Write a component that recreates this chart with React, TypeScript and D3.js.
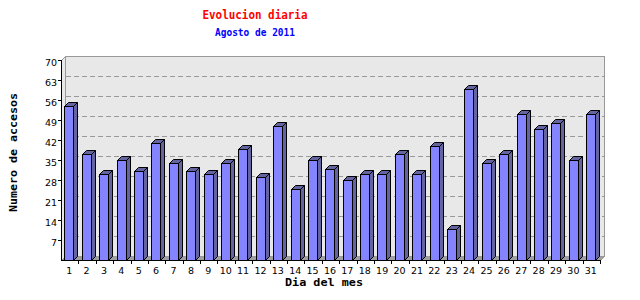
import React from "react";
import * as d3 from "d3";

const days: string[] = Array.from({ length: 31 }, (_, i) => String(i + 1));
const visits: number[] = [54, 37, 30, 35, 31, 41, 34, 31, 30, 34, 39, 29, 47, 25, 35, 32, 28, 30, 30, 37, 30, 40, 11, 60, 34, 37, 51, 46, 48, 35, 51];
const yTicks: number[] = [7, 14, 21, 28, 35, 42, 49, 56, 63, 70];

const title = "Evolucion diaria";
const subtitle = "Agosto de 2011";
const xTitle = "Dia del mes";
const yTitle = "Numero de accesos";

export default function App() {
  const W = 640, H = 300;
  const x0 = 61, x1 = 600, yTop = 60, yBot = 260;
  const D = 4; // 3D depth
  const x = d3.scaleBand<string>().domain(days).range([x0, x1]).padding(0);
  const y = d3.scaleLinear().domain([0, 70]).range([yBot, yTop]);
  const bw = x.bandwidth();
  const faceW = 9;

  const mono = "'DejaVu Sans Mono', monospace";
  const sans = "'DejaVu Sans', sans-serif";

  return (
    <svg width={W} height={H} style={{ position: "absolute", left: 0, top: 0, display: "block", background: "#fff" }}>
      {/* back wall */}
      <rect x={x0 + D + 0.5} y={yTop - D + 0.5} width={x1 - x0} height={yBot - yTop} fill="#e8e8e8" stroke="#999" strokeWidth={1} />
      {/* left wall */}
      <polygon points={`${x0 + 0.5},${yTop + 0.5} ${x0 + D + 0.5},${yTop - D + 0.5} ${x0 + D + 0.5},${yBot - D + 0.5} ${x0 + 0.5},${yBot + 0.5}`} fill="#e8e8e8" stroke="#999" strokeWidth={1} />
      {/* floor */}
      <polygon points={`${x0 + 0.5},${yBot + 0.5} ${x0 + D + 0.5},${yBot - D + 0.5} ${x1 + D + 0.5},${yBot - D + 0.5} ${x1 + 0.5},${yBot + 0.5}`} fill="#a0a0a0" stroke="#999" strokeWidth={1} />
      {/* gridlines on back wall */}
      {yTicks.filter((t) => t < 70).map((t) => (
        <line key={"g" + t} x1={x0 + D + 1} x2={x1 + D} y1={Math.round(y(t) - D) + 0.5} y2={Math.round(y(t) - D) + 0.5} stroke="#999" strokeDasharray="5,3" />
      ))}
      {/* bars */}
      {visits.map((v, i) => {
        const c = (x(days[i]) as number) + bw / 2;
        const fx0 = Math.round(c - 5.2) + 0.5;
        const fx1 = fx0 + faceW;
        const top = Math.round(y(v)) + 0.5;
        const bot = yBot + 0.5;
        return (
          <g key={"b" + i} stroke="#000" strokeWidth={1} strokeLinejoin="miter">
            <polygon points={`${fx1},${top} ${fx1 + D},${top - D} ${fx1 + D},${bot - D} ${fx1},${bot}`} fill="#6464a0" />
            <polygon points={`${fx0},${top} ${fx0 + D},${top - D} ${fx1 + D},${top - D} ${fx1},${top}`} fill="#6464a0" />
            <rect x={fx0} y={top} width={faceW} height={bot - top} fill="#8484ff" />
          </g>
        );
      })}
      {/* axes */}
      <line x1={x0 + 0.5} x2={x0 + 0.5} y1={yTop} y2={yBot + 1} stroke="#000" />
      <line x1={x0} x2={x1 + 1} y1={yBot + 0.5} y2={yBot + 0.5} stroke="#000" />
      {/* y ticks & labels */}
      {yTicks.map((t) => (
        <g key={"yt" + t}>
          <line x1={x0 - 3} x2={x0} y1={Math.round(y(t)) + 0.5} y2={Math.round(y(t)) + 0.5} stroke="#000" />
          <text x={57} y={y(t) + 6} textAnchor="end" fontFamily={sans} fontSize={9.5} fill="#000">{t}</text>
        </g>
      ))}
      {/* x ticks & labels */}
      {days.map((d) => {
        const xb = Math.round((x(d) as number) + bw) + 0.5;
        return (
          <g key={"xt" + d}>
            <line x1={xb} x2={xb} y1={yBot} y2={yBot + 4} stroke="#000" />
            <text x={(x(d) as number) + bw / 2 - 0.5} y={274} textAnchor="middle" fontFamily={sans} fontSize={9.5} fill="#000">{d}</text>
          </g>
        );
      })}
      {/* titles */}
      <text x={255} y={18.5} textAnchor="middle" fontFamily={mono} fontWeight="bold" fontSize={13} fill="#ff0000" textLength={105} lengthAdjust="spacingAndGlyphs">{title}</text>
      <text x={255} y={36} textAnchor="middle" fontFamily={mono} fontWeight="bold" fontSize={10.5} fill="#0000ff" textLength={80} lengthAdjust="spacingAndGlyphs">{subtitle}</text>
      <text x={324} y={286} textAnchor="middle" fontFamily={mono} fontWeight="bold" fontSize={11} fill="#000" textLength={78} lengthAdjust="spacingAndGlyphs">{xTitle}</text>
      <text transform={`translate(17,152.5) rotate(-90)`} textAnchor="middle" fontFamily={mono} fontWeight="bold" fontSize={11} fill="#000" textLength={119} lengthAdjust="spacingAndGlyphs">{yTitle}</text>
    </svg>
  );
}
